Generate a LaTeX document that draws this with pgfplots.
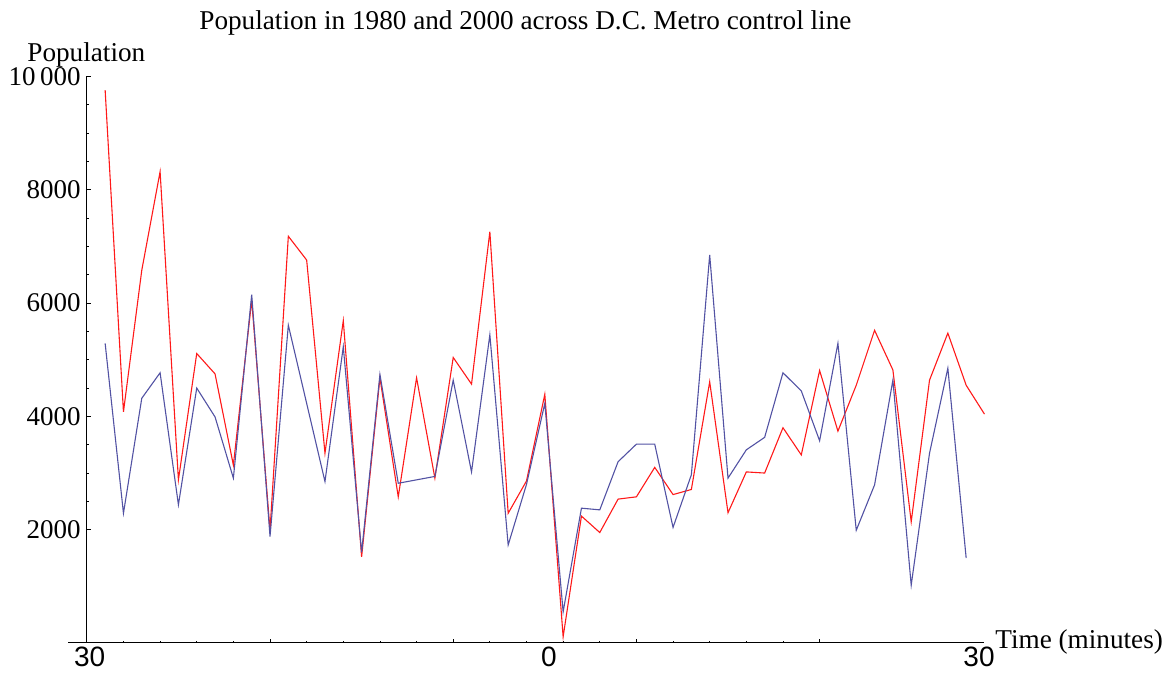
\documentclass[border=0pt]{standalone}
\usepackage{pgfplots}
\pgfplotsset{compat=1.18}
\usepackage{fontspec}
\setmainfont{Liberation Serif}
\newfontfamily\sansf{Liberation Sans}
\definecolor{redline}{rgb}{1,0.1,0.1}
\definecolor{blueline}{rgb}{0.32,0.32,0.64}
\pgfplotstableread{
x y
1 9760
2 4080
3 6580
4 8320
5 2880
6 5110
7 4750
8 3140
9 6050
10 1990
11 7180
12 6760
13 3350
14 5690
15 1520
16 4680
17 2580
18 4680
19 2910
20 5040
21 4570
22 7260
23 2290
24 2860
25 4390
26 110
27 2240
28 1950
29 2540
30 2580
31 3100
32 2620
33 2710
34 4610
35 2300
36 3020
37 3000
38 3800
39 3320
40 4810
41 3740
42 4550
43 5520
44 4820
45 2140
46 4640
47 5470
48 4550
49 4040
}\redtable
\pgfplotstableread{
x y
1 5290
2 2290
3 4320
4 4770
5 2440
6 4500
7 3990
8 2910
9 6150
10 1880
11 5610
12 4230
13 2850
14 5230
15 1600
16 4740
17 2820
18 2880
19 2940
20 4640
21 3020
22 5440
23 1730
24 2800
25 4230
26 550
27 2380
28 2350
29 3200
30 3510
31 3510
32 2040
33 2970
34 6850
35 2910
36 3410
37 3630
38 4770
39 4450
40 3570
41 5290
42 1990
43 2790
44 4640
45 1020
46 3350
47 4850
48 1500
}\bluetable
\begin{document}
\begin{tikzpicture}
\path[use as bounding box] (0,0) rectangle (587pt,337pt);
\begin{axis}[
  scale only axis,
  width=458pt, height=283.25pt,
  at={(34.25pt,15.5pt)}, anchor=south west,
  axis lines=middle,
  axis line style={-, black, line width=0.5pt},
  xmin=-1, xmax=49, ymin=0, ymax=10000,
  scaled y ticks=false,
  xtick={0,10,20,30,40},
  xticklabels={},
  minor x tick num=4,
  ytick={2000,4000,6000,8000,10000},
  yticklabels={2000,4000,6000,8000,10\,000},
  minor y tick num=3,
  tick align=inside,
  major tick length=2pt,
  minor tick length=1.2pt,
  tick style={black, line width=0.4pt},
  yticklabel style={font=\fontsize{13.5}{13.5}\selectfont, anchor=east, inner sep=0pt, xshift=-2.9pt},
  clip=false,
]
\addplot[redline, line width=0.55pt] table[x=x,y=y] {\redtable};
\addplot[blueline, line width=0.55pt] table[x=x,y=y] {\bluetable};
\end{axis}
\node[anchor=base, inner sep=0pt, font=\fontsize{13.6}{13.6}\selectfont] at (262.7pt,322pt) {Population in 1980 and 2000 across D.C. Metro control line};
\node[anchor=base west, inner sep=0pt, font=\fontsize{13.6}{13.6}\selectfont] at (13.5pt,306.25pt) {Population};
\node[anchor=base west, inner sep=0pt, font=\fontsize{13.6}{13.6}\selectfont] at (497.5pt,12.5pt) {Time (minutes)};
\node[anchor=base, inner sep=0pt, font=\sansf\fontsize{14}{14}\selectfont] at (44.85pt,3.5pt) {30};
\node[anchor=base, inner sep=0pt, font=\sansf\fontsize{14}{14}\selectfont] at (274.4pt,3.5pt) {0};
\node[anchor=base, inner sep=0pt, font=\sansf\fontsize{14}{14}\selectfont] at (489.5pt,3.5pt) {30};
\end{tikzpicture}
\end{document}
